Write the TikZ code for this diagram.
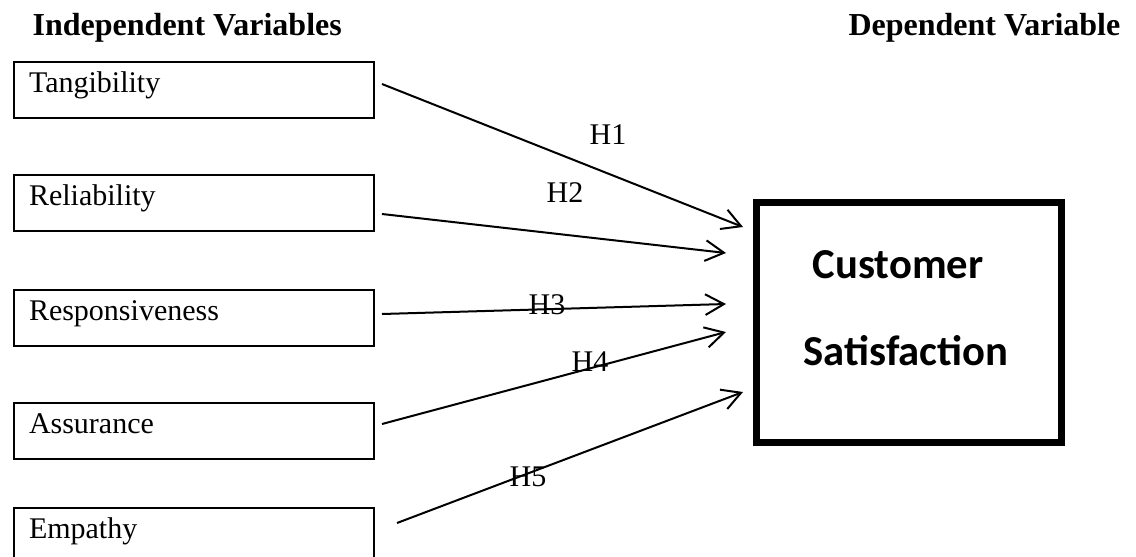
\documentclass[tikz,border=0pt]{standalone}
\usepackage{fontspec}
\setmainfont{Liberation Serif}
\newfontfamily\csfont{Carlito}
\usetikzlibrary{arrows.meta, positioning}

\tikzset{
    ivbox/.style={draw, line width=1.5pt, anchor=north west,
        inner xsep=11.25pt, inner ysep=0pt, text width=247.5pt, align=left,
        text height=22.5pt, text depth=19.5pt,
        font=\fontsize{22.5}{27}\selectfont},
    dvbox/.style={draw, line width=5.25pt, minimum width=228.75pt,
        minimum height=180pt, inner sep=0pt},
    cstext/.style={anchor=base, font=\csfont\bfseries\fontsize{32}{38}\selectfont},
    heading/.style={font=\bfseries\fontsize{24}{29}\selectfont},
    hyp/.style={-{Straight Barb[length=14pt,width=15.5pt]}, line width=1.5pt},
    hlabel/.style={font=\fontsize{22.5}{27}\selectfont, inner sep=0pt}
}

\begin{document}
\begin{tikzpicture}[x=0.75pt, y=-0.75pt]
    \useasboundingbox (0,0) rectangle (1136,557);
    \clip (0,0) rectangle (1136,557);

    % headings
    \node[heading, anchor=base west] (indep) at (28,35) {Independent Variables};
    \node[heading, anchor=base east] (dep) at (1125,35) {Dependent Variable};

    % independent variables
    \node[ivbox] (tang) at (13,61)  {Tangibility};
    \node[ivbox] (reli) at (13,174) {Reliability};
    \node[ivbox] (resp) at (13,289) {Responsiveness};
    \node[ivbox] (assu) at (13,402) {Assurance};
    \node[ivbox] (empa) at (13,507) {Empathy};

    % dependent variable
    \node[dvbox] (cs) at (909,322.5) {};
    \node[cstext] (cs1) at (898,278) {Customer};
    \node[cstext] (cs2) at (906,365) {Satisfaction};

    % arrow ends
    \coordinate (t-out) at (382,84);
    \coordinate (r-out) at (382,214);
    \coordinate (s-out) at (382,314);
    \coordinate (a-out) at (382,424);
    \coordinate (e-out) at (397,523);
    \coordinate (t-in) at (743,227);
    \coordinate (r-in) at (726,253);
    \coordinate (s-in) at (726,304);
    \coordinate (a-in) at (726,332);
    \coordinate (e-in) at (743,392);

    \draw[hyp] (t-out) -- (t-in);
    \draw[hyp] (r-out) -- (r-in);
    \draw[hyp] (s-out) -- (s-in);
    \draw[hyp] (a-out) -- (a-in);
    \draw[hyp] (e-out) -- (e-in);

    % hypotheses
    \node[hlabel] (h1) at (608,135) {H1};
    \node[hlabel] (h2) at (565,193) {H2};
    \node[hlabel] (h3) at (547,305) {H3};
    \node[hlabel] (h4) at (590,362) {H4};
    \node[hlabel] (h5) at (528,477) {H5};
\end{tikzpicture}
\end{document}
